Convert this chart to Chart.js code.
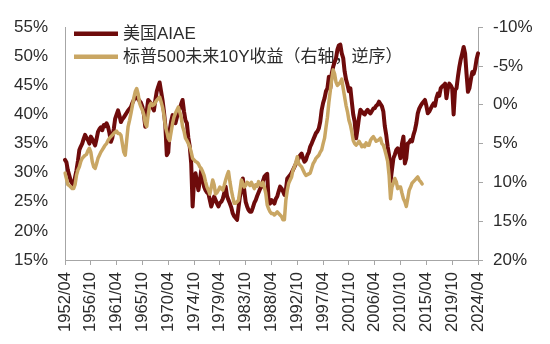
<!DOCTYPE html>
<html><head><meta charset="utf-8">
<script src="https://cdn.jsdelivr.net/npm/chart.js@4"></script>
<style>html,body{margin:0;padding:0;background:#fff;}</style>
</head><body>
<canvas id="c" width="550" height="344"></canvas>
<script>
// Series names
const seriesNames = ['美国AIAE', '标普500未来10Y收益（右轴，逆序）'];

// Tick labels shown on the x axis
const tickLabels = ['1952/04','1956/10','1961/04','1965/10','1970/04','1974/10','1979/04','1983/10',
  '1988/04','1992/10','1997/04','2001/10','2006/04','2010/10','2015/04','2019/10','2024/04'];

// Quarterly categories 1952/04 .. 2024/04
const categories = [];
for (let y = 1952, m = 4; y < 2024 || (y === 2024 && m <= 4);) {
  categories.push(y + '/' + String(m).padStart(2, '0'));
  m += 3; if (m > 12) { m -= 12; y++; }
}

// US AIAE (%), quarterly, left axis
const aiae = [
  32.2, 31.8, 30.4, 29.5, 28.6, 28.2, 27.9, 29.2, 30.4, 32.0,
  33.9, 34.5, 35.0, 35.8, 36.5, 36.0, 35.6, 35.0, 36.2, 35.8,
  35.2, 34.7, 35.8, 37.0, 37.5, 37.8, 37.3, 38.2, 38.0, 38.5,
  37.9, 36.8, 35.3, 36.0, 37.5, 39.3, 40.0, 40.7, 39.8, 38.7,
  39.2, 39.5, 39.9, 40.3, 40.7, 41.0, 41.3, 42.0, 42.5, 43.0,
  42.8, 42.7, 42.3, 42.0, 41.3, 40.0, 37.9, 40.5, 42.5, 42.2,
  41.9, 41.2, 40.7, 42.5, 44.0, 44.8, 45.5, 44.0, 42.5, 40.5,
  38.0, 33.0, 33.5, 37.3, 38.8, 39.9, 39.0, 38.5, 39.5, 40.2,
  41.0, 41.8, 42.5, 40.5, 39.0, 38.5, 36.0, 34.5, 31.6, 24.2,
  28.7, 29.9, 28.5, 27.0, 28.5, 30.4, 29.0, 27.6, 27.0, 26.6,
  26.4, 25.3, 24.2, 25.0, 25.9, 25.3, 24.7, 24.2, 24.8, 25.0,
  25.5, 26.4, 27.6, 26.0, 25.3, 24.7, 24.0, 23.0, 22.5, 22.2,
  21.9, 24.0, 25.9, 27.0, 29.0, 27.0, 25.0, 24.2, 23.6, 23.3,
  23.3, 24.0, 24.8, 25.3, 26.0, 26.6, 27.2, 27.6, 28.5, 29.3,
  29.6, 29.8, 25.0, 24.7, 25.3, 25.0, 24.7, 25.5, 25.9, 26.8,
  27.6, 27.3, 26.8, 26.2, 27.0, 29.0, 29.3, 29.6, 30.0, 30.5,
  31.0, 31.5, 32.2, 32.5, 33.0, 33.3, 32.5, 31.9, 32.2, 33.0,
  33.5, 34.5, 35.0, 35.6, 36.2, 36.8, 37.1, 37.6, 38.8, 40.8,
  42.0, 42.8, 44.0, 44.5, 46.5, 44.5, 47.0, 48.2, 49.0, 49.7,
  51.2, 51.9, 52.0, 50.5, 49.7, 47.4, 46.0, 45.1, 44.0, 44.5,
  42.2, 40.0, 38.8, 35.9, 37.5, 39.4, 40.8, 40.5, 40.2, 40.0,
  40.5, 40.8, 40.4, 40.2, 40.6, 41.0, 41.1, 41.5, 41.7, 42.2,
  41.8, 41.4, 40.5, 38.0, 36.5, 34.5, 33.0, 28.5, 30.5, 32.5,
  33.1, 33.9, 34.2, 33.5, 32.5, 35.0, 36.2, 31.6, 32.5, 35.0,
  35.2, 35.6, 35.4, 36.5, 37.3, 38.5, 40.2, 41.0, 41.5, 41.9,
  42.2, 42.5, 41.5, 40.2, 40.5, 41.0, 41.5, 41.9, 41.5, 42.8,
  43.6, 43.2, 44.5, 44.8, 45.0, 45.3, 42.8, 44.5, 45.3, 45.0,
  44.5, 40.0, 44.2, 44.5, 46.5, 48.2, 49.5, 50.5, 51.6, 50.5,
  47.0, 43.9, 44.5, 46.0, 47.3, 47.0, 47.9, 49.5, 50.5
];

// S&P 500 subsequent 10Y annualised return (%), quarterly, right axis (reversed)
const fwdReturn = [
  8.8, 9.5, 10.3, 10.4, 10.6, 10.8, 10.8, 10.3, 9.1, 8.4,
  8.0, 7.3, 6.9, 6.7, 6.5, 6.4, 5.9, 5.6, 6.1, 7.3,
  8.0, 8.2, 7.6, 6.9, 6.5, 6.1, 5.8, 5.5, 5.2, 5.0,
  4.6, 4.3, 4.1, 3.9, 3.7, 3.5, 3.4, 3.7, 3.7, 3.9,
  5.0, 6.1, 6.5, 4.6, 2.8, 2.0, 1.1, 0.1, -0.9, -1.7,
  -2.1, -1.4, -0.2, 0.3, 0.7, 1.3, 2.4, 2.8, 1.3, 0.1,
  -0.2, 0.1, 0.0, -0.3, -0.6, -0.8, -1.0, -0.4, 0.3, 1.3,
  2.8, 3.5, 4.3, 4.6, 3.5, 2.4, 1.6, 1.1, 0.7, 0.3,
  0.9, 1.6, 2.8, 3.4, 4.3, 4.6, 5.0, 5.4, 6.1, 6.9,
  7.1, 7.3, 7.4, 7.6, 8.0, 8.2, 8.6, 9.1, 9.9, 10.6,
  11.0, 11.5, 10.6, 9.7, 10.3, 11.5, 11.3, 11.0, 10.6, 10.8,
  11.0, 10.4, 9.7, 9.1, 8.6, 9.9, 11.0, 11.9, 12.7, 12.7,
  12.5, 12.3, 11.0, 9.7, 10.1, 10.6, 10.4, 10.0, 10.1, 10.4,
  10.0, 10.4, 10.8, 10.3, 10.5, 9.9, 10.2, 10.4, 10.0, 10.6,
  11.4, 12.9, 13.4, 13.8, 14.0, 14.0, 14.2, 14.0, 13.8, 14.0,
  14.2, 14.4, 14.8, 14.8, 12.3, 11.0, 10.1, 9.7, 9.3, 8.4,
  8.0, 7.4, 6.7, 7.6, 7.8, 8.0, 8.4, 8.8, 9.1, 9.0,
  8.9, 8.8, 8.2, 7.6, 7.3, 6.9, 6.7, 6.5, 6.1, 5.8,
  5.0, 4.3, 2.9, 1.6, -0.3, -1.8, -3.3, -4.5, -4.0, -2.9,
  -2.5, -2.7, -2.9, -3.3, -2.1, -1.0, 0.1, 0.9, 2.0, 2.6,
  3.5, 4.6, 5.0, 5.2, 5.0, 4.7, 5.0, 5.4, 5.2, 5.4,
  4.9, 5.2, 5.2, 4.6, 4.3, 4.1, 4.4, 4.7, 4.6, 4.5,
  4.3, 5.0, 5.2, 5.8, 6.5, 7.3, 9.1, 12.1, 10.6, 10.1,
  9.5, 9.9, 10.8, 10.6, 10.6, 11.4, 12.1, 12.5, 13.1, 12.1,
  11.0, 10.6, 10.1, 9.9, 9.7, 9.5, 9.3, 9.7, 9.9, 10.2
];

const FONT = "'Liberation Sans', Arial, 'Noto Sans CJK SC', sans-serif";
const TEXT = '#2b2b2b';
const AXIS = '#a6a6a6';
const DARK = '#6e0b0b';
const TAN = '#c9a663';

Chart.defaults.font.family = FONT;
Chart.defaults.font.size = 17;
Chart.defaults.color = TEXT;

const inlineLegend = {
  id: 'inlineLegend',
  beforeDatasetsDraw(chart) {
    const ctx = chart.ctx, ca = chart.chartArea;
    chart.data.datasets.forEach((ds, i) => {
      const y = ca.top + 6.5 + i * 23;
      ctx.save();
      ctx.strokeStyle = ds.borderColor;
      ctx.lineWidth = 4.5;
      ctx.beginPath();
      ctx.moveTo(ca.left + 9, y);
      ctx.lineTo(ca.left + 53, y);
      ctx.stroke();
      ctx.fillStyle = TEXT;
      ctx.font = '17px ' + FONT;
      ctx.textBaseline = 'middle';
      ctx.textAlign = 'left';
      ctx.fillText(ds.label, ca.left + 58, y + 0.5);
      ctx.restore();
    });
  }
};

new Chart(document.getElementById('c'), {
  type: 'line',
  data: {
    labels: categories,
    datasets: [
      { label: seriesNames[0], data: aiae, yAxisID: 'y', borderColor: DARK, backgroundColor: DARK,
        borderWidth: 4, pointRadius: 0, tension: 0, borderJoinStyle: 'round', borderCapStyle: 'round', order: 1 },
      { label: seriesNames[1], data: fwdReturn, yAxisID: 'y2', borderColor: TAN, backgroundColor: TAN,
        borderWidth: 3.5, pointRadius: 0, tension: 0, borderJoinStyle: 'round', borderCapStyle: 'round', order: 0 }
    ]
  },
  options: {
    responsive: false,
    animation: false,
    layout: { padding: { top: 27, left: 0, right: 0, bottom: 0 } },
    plugins: { legend: { display: false }, tooltip: { enabled: false } },
    scales: {
      x: {
        type: 'category', offset: false,
        grid: { drawOnChartArea: false, drawTicks: true, tickLength: 5, color: AXIS },
        border: { display: true, color: AXIS, width: 1 },
        ticks: {
          autoSkip: false, minRotation: 90, maxRotation: 90, padding: 7,
          font: { size: 16.6 },
          callback: function (value) {
            const l = this.getLabelForValue(value);
            return tickLabels.includes(l) ? l : null;
          }
        },
        afterFit(s) { s.height = 84; }
      },
      y: {
        position: 'left', min: 15, max: 55,
        ticks: { stepSize: 5, padding: 17, callback: v => v + '%' },
        grid: { drawOnChartArea: false, drawTicks: false, color: AXIS },
        border: { display: true, color: AXIS, width: 1 },
        afterFit(s) { s.width = 65; }
      },
      y2: {
        position: 'right', reverse: true, min: -10, max: 20,
        ticks: { stepSize: 5, padding: 10, callback: v => v + '%' },
        grid: { drawOnChartArea: false, drawTicks: true, tickLength: 5, color: AXIS },
        border: { display: true, color: AXIS, width: 1 },
        afterFit(s) { s.width = 72; }
      }
    }
  },
  plugins: [inlineLegend]
});
</script>
</body></html>
